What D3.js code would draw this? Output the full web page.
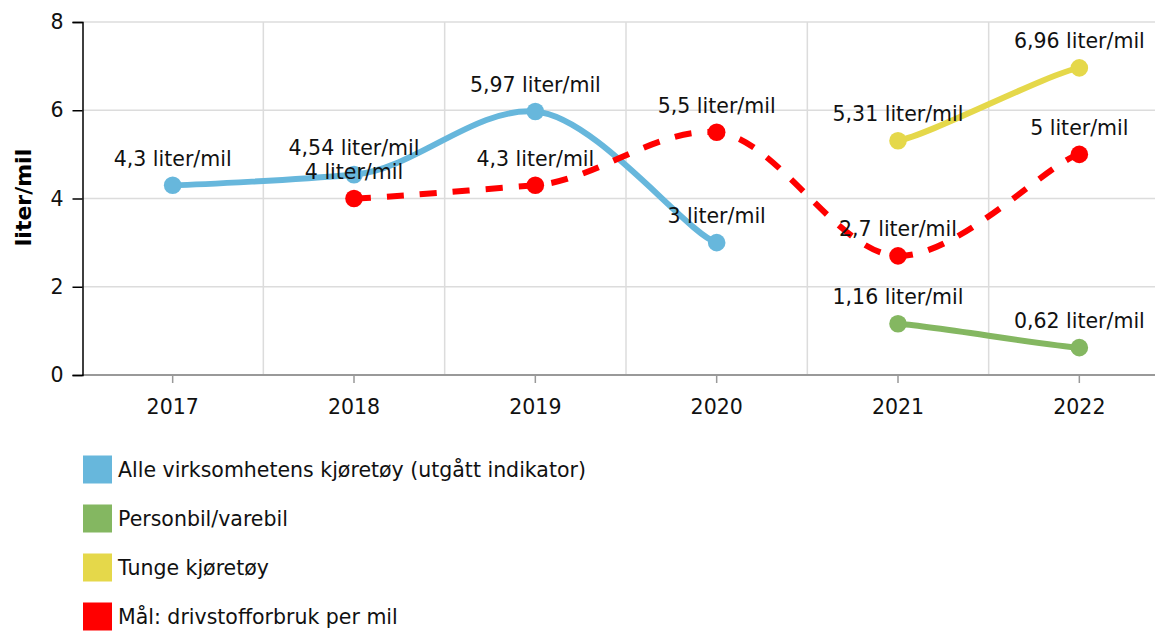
<!DOCTYPE html>
<html>
<head>
<meta charset="utf-8">
<script src="https://cdn.jsdelivr.net/npm/d3@7"></script>
<style>
  html, body { margin: 0; padding: 0; background: #fff; }
  svg { display: block; font-family: "DejaVu Sans", Verdana, sans-serif; }
</style>
</head>
<body>
<svg id="chart" width="1155" height="631"></svg>
<script>
// ---- data ----
const years = ["2017", "2018", "2019", "2020", "2021", "2022"];
const alleYears = ["2017", "2018", "2019", "2020"];
const alleValues = [4.3, 4.54, 5.97, 3.0];
const personYears = ["2021", "2022"];
const personValues = [1.16, 0.62];
const tungeYears = ["2021", "2022"];
const tungeValues = [5.31, 6.96];
const maalYears = ["2018", "2019", "2020", "2021", "2022"];
const maalValues = [4.0, 4.3, 5.5, 2.7, 5.0];
const yTicks = [0, 2, 4, 6, 8];
const seriesNames = [
  "Alle virksomhetens kjøretøy (utgått indikator)",
  "Personbil/varebil",
  "Tunge kjøretøy",
  "Mål: drivstofforbruk per mil"
];
const seriesColors = ["#67b7dc", "#84b761", "#e5d84a", "#ff0000"];
const unit = "liter/mil";
const yTitle = "liter/mil";

// ---- setup ----
const FS = 20.5;
const svg = d3.select("#chart");
const x = d3.scaleBand().domain(years).range([82, 1170]).paddingInner(0).paddingOuter(0);
const y = d3.scaleLinear().domain([0, 8]).range([375, 22]);
const cx = d => x(d) + x.bandwidth() / 2;

// custom tension spline (different x / y tension)
function curveTension(kx, ky) {
  return function(context) {
    return {
      areaStart() {}, areaEnd() {},
      lineStart() { this._p = []; },
      point(px, py) { this._p.push([+px, +py]); },
      lineEnd() {
        const p = this._p, n = p.length;
        if (!n) return;
        context.moveTo(p[0][0], p[0][1]);
        for (let i = 0; i < n - 1; i++) {
          const p0 = p[i - 1] || p[i], p1 = p[i], p2 = p[i + 1], p3 = p[i + 2] || p[i + 1];
          const ax = p1[0] + (p2[0] - p0[0]) * kx, ay = p1[1] + (p2[1] - p0[1]) * ky;
          const bx = p2[0] - (p3[0] - p1[0]) * kx, by = p2[1] - (p3[1] - p1[1]) * ky;
          context.bezierCurveTo(ax, ay, bx, by, p2[0], p2[1]);
        }
      }
    };
  };
}

// ---- grid ----
const grid = svg.append("g");
grid.selectAll("line.h").data(yTicks.filter(t => t > 0)).enter().append("line")
  .attr("x1", 82).attr("x2", 1170)
  .attr("y1", d => y(d)).attr("y2", d => y(d))
  .attr("stroke", "#dcdcdc").attr("stroke-width", 1.5);
grid.selectAll("line.v").data(years.slice(1)).enter().append("line")
  .attr("x1", d => x(d)).attr("x2", d => x(d))
  .attr("y1", y(8)).attr("y2", y(0))
  .attr("stroke", "#dcdcdc").attr("stroke-width", 1.5);

// ---- x axis ----
const xAxis = svg.append("g").attr("transform", `translate(0,${y(0)})`)
  .call(d3.axisBottom(x).tickSize(8).tickPadding(16));
xAxis.select(".domain").remove();
xAxis.selectAll(".tick line").attr("stroke", "#999").attr("stroke-width", 1.5);
xAxis.selectAll(".tick text").attr("font-size", FS).attr("fill", "#111")
  .attr("font-family", "DejaVu Sans, Verdana, sans-serif");
svg.append("line").attr("x1", 82).attr("x2", 1170).attr("y1", y(0)).attr("y2", y(0))
  .attr("stroke", "#999").attr("stroke-width", 2);

// ---- y axis ----
const yAxis = svg.append("g").attr("transform", "translate(82.5,0)")
  .call(d3.axisLeft(y).tickValues(yTicks).tickSize(10).tickPadding(9));
yAxis.select(".domain").attr("stroke", "#000").attr("stroke-width", 1.5);
yAxis.selectAll(".tick line").attr("stroke", "#000").attr("stroke-width", 1.5);
yAxis.selectAll(".tick text").attr("font-size", FS).attr("fill", "#111")
  .attr("font-family", "DejaVu Sans, Verdana, sans-serif");

svg.append("text")
  .attr("transform", "translate(31,197.5) rotate(-90)")
  .attr("text-anchor", "middle")
  .attr("font-size", 22).attr("font-weight", "bold").attr("fill", "#000")
  .text(yTitle);

// ---- series ----
const series = [
  { yrs: alleYears, vals: alleValues, color: seriesColors[0], dash: null },
  { yrs: personYears, vals: personValues, color: seriesColors[1], dash: null },
  { yrs: tungeYears, vals: tungeValues, color: seriesColors[2], dash: null },
  { yrs: maalYears, vals: maalValues, color: seriesColors[3], dash: "17,16" }
];
const line = d3.line().x(d => cx(d.year)).y(d => y(d.value)).curve(curveTension(1 / 6, 0.07));
const fmt = v => String(v).replace(".", ",") + " " + unit;

series.forEach(s => {
  const pts = s.yrs.map((yr, i) => ({ year: yr, value: s.vals[i] }));
  const g = svg.append("g");
  g.append("path").datum(pts)
    .attr("d", line)
    .attr("fill", "none")
    .attr("stroke", s.color)
    .attr("stroke-width", 6)
    .attr("stroke-dasharray", s.dash);
  g.selectAll("circle").data(pts).enter().append("circle")
    .attr("cx", d => cx(d.year)).attr("cy", d => y(d.value)).attr("r", 8.8)
    .attr("fill", s.color);
  g.selectAll("text").data(pts).enter().append("text")
    .attr("x", d => cx(d.year)).attr("y", d => y(d.value) - 19.5)
    .attr("text-anchor", "middle").attr("font-size", FS).attr("fill", "#111")
    .text(d => fmt(d.value));
});

// ---- legend ----
const legend = svg.append("g");
seriesNames.forEach((name, i) => {
  const ly = 455.5 + i * 49;
  legend.append("rect").attr("x", 83).attr("y", ly).attr("width", 29).attr("height", 28)
    .attr("fill", seriesColors[i]);
  legend.append("text").attr("x", 118).attr("y", ly + 21.5)
    .attr("font-size", FS).attr("fill", "#111").text(name);
});
</script>
</body>
</html>
